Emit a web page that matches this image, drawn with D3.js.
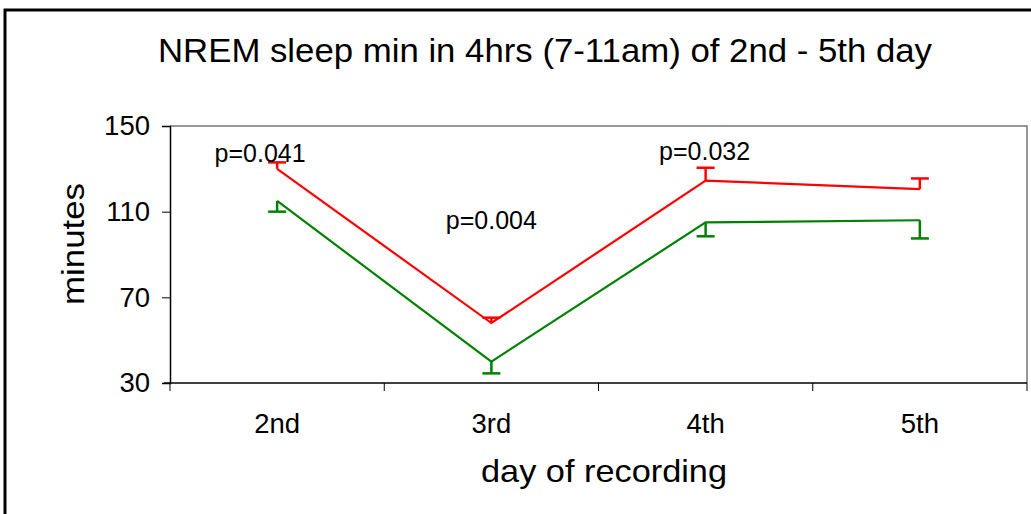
<!DOCTYPE html>
<html><head><meta charset="utf-8">
<script src="https://cdn.jsdelivr.net/npm/d3@7"></script>
<style>body{margin:0;background:#fff;} text{font-family:"Liberation Sans",Arial,sans-serif;fill:#000;}</style>
</head><body>
<svg id="c" width="1031" height="514"></svg>
<script>
const days = ["2nd","3rd","4th","5th"];
const redValues = [130, 58, 124.5, 120.5];
const redErr = [3, 2.5, 6, 5];
const greenValues = [115, 40, 105, 106];
const greenErr = [5, 5.5, 6.5, 8.5];
const yTicks = [30, 70, 110, 150];
const pLabels = [{day:"2nd", text:"p=0.041", y:133, dx:-17}, {day:"3rd", text:"p=0.004", y:101.7, dx:0}, {day:"4th", text:"p=0.032", y:134, dx:-1}];
const title = "NREM sleep min in 4hrs (7-11am) of 2nd - 5th day";

const svg = d3.select("#c");
svg.append("rect").attr("x",5).attr("y",10).attr("width",1040).attr("height",520)
  .attr("fill","none").attr("stroke","#000").attr("stroke-width",3);

const L=170,R=1027,T=126,B=383;
const x = d3.scaleBand().domain(days).range([L,R]);
const y = d3.scaleLinear().domain([30,150]).range([B,T]);

svg.append("path").attr("d",`M${L},${T}H${R}V${B}`).attr("fill","none").attr("stroke","#777").attr("stroke-width",1.5);

const ya = svg.append("g").attr("transform",`translate(${L},0)`).call(d3.axisLeft(y).tickValues(yTicks).tickSize(8).tickPadding(12));
ya.selectAll("text").style("font-size","27.5px");
ya.select(".domain").attr("stroke-width",1.5);

const xa = svg.append("g").attr("transform",`translate(0,${B})`)
  .call(d3.axisBottom(x).tickSize(0).tickPadding(30));
xa.selectAll("text").style("font-size","27.5px").attr("dy","0.71em");
xa.select(".domain").attr("stroke-width",1.5).attr("d",`M${L-6},0H${R}`);
const bounds = days.map(d=>x(d)).concat([R]);
xa.selectAll(".bt").data(bounds).enter().append("line").attr("class","bt")
  .attr("x1",d=>d).attr("x2",d=>d).attr("y1",0).attr("y2",8).attr("stroke","#000");

const cx = d => x(d)+x.bandwidth()/2;

function series(vals, errs, color, dir){
  const pts = days.map((d,i)=>({d, v:vals[i], e:errs[i]}));
  svg.append("path").datum(pts).attr("fill","none").attr("stroke",color).attr("stroke-width",2.2)
    .attr("d", d3.line().x(p=>cx(p.d)).y(p=>y(p.v)));
  const g = svg.append("g").attr("stroke",color).attr("stroke-width",2.5);
  pts.forEach(p=>{
    const ye = y(p.v + dir*p.e);
    g.append("line").attr("x1",cx(p.d)).attr("x2",cx(p.d)).attr("y1",y(p.v)).attr("y2",ye);
    g.append("line").attr("x1",cx(p.d)-9).attr("x2",cx(p.d)+9).attr("y1",ye).attr("y2",ye);
  });
}
series(redValues, redErr, "#ff0000", 1);
series(greenValues, greenErr, "#008000", -1);

svg.selectAll(".pl").data(pLabels).enter().append("text").attr("class","pl")
  .attr("x",d=>cx(d.day)+d.dx).attr("y",d=>y(d.y)).attr("text-anchor","middle")
  .style("font-size","25px").text(d=>d.text);

svg.append("text").attr("x",545).attr("y",62).attr("text-anchor","middle")
  .style("font-size","34px").attr("textLength",774).attr("lengthAdjust","spacingAndGlyphs").text(title);
svg.append("text").attr("x",604).attr("y",482).attr("text-anchor","middle")
  .style("font-size","32px").attr("textLength",246).attr("lengthAdjust","spacingAndGlyphs").text("day of recording");
svg.append("text").attr("transform","translate(84,244) rotate(-90)").attr("text-anchor","middle")
  .style("font-size","32px").attr("textLength",122).attr("lengthAdjust","spacingAndGlyphs").text("minutes");
</script>
</body></html>
